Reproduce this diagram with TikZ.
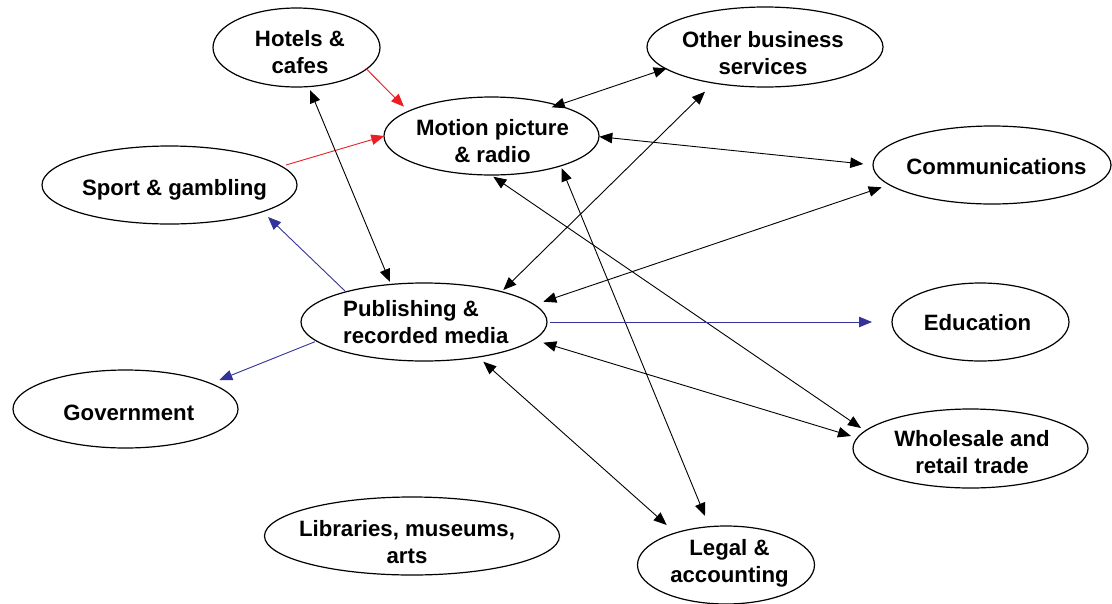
\documentclass[tikz,border=0pt]{standalone}
\usepackage{fontspec}
\setmainfont{Liberation Sans}
\usetikzlibrary{shapes.geometric,arrows.meta,calc}
\definecolor{arrred}{RGB}{235,30,36}
\definecolor{arrblue}{RGB}{51,51,153}
\begin{document}
\begin{tikzpicture}[x=1pt,y=1pt,
  ell/.style={ellipse,draw,line width=1.2pt,inner sep=0pt},
  lbl/.style={inner sep=0pt,font=\bfseries\fontsize{22.2}{27}\selectfont,anchor=base},
  >={Triangle[length=13pt,width=10.5pt]},
  bi/.style={<->,line width=0.9pt},
  rd/.style={->,line width=0.9pt,draw=arrred},
  bl/.style={->,line width=0.9pt,draw=arrblue}]
\useasboundingbox (0,0) rectangle (1112,-603);
% ellipses
\node[ell,minimum width=167pt,minimum height=79pt] (H) at (296.5,-47.5) {};
\node[ell,minimum width=215pt,minimum height=78pt] (M) at (491.5,-136) {};
\node[ell,minimum width=236pt,minimum height=80pt] (O) at (765,-47) {};
\node[ell,minimum width=238pt,minimum height=78pt] (C) at (992,-165) {};
\node[ell,minimum width=255pt,minimum height=78pt] (S) at (169.5,-185) {};
\node[ell,minimum width=246pt,minimum height=78pt] (P) at (424,-322) {};
\node[ell,minimum width=177pt,minimum height=78pt] (E) at (980.5,-322) {};
\node[ell,minimum width=225pt,minimum height=78pt] (G) at (125.5,-409) {};
\node[ell,minimum width=235pt,minimum height=79pt] (W) at (970.5,-448.5) {};
\node[ell,minimum width=295pt,minimum height=78pt] (L) at (412,-536) {};
\node[ell,minimum width=177pt,minimum height=78pt] (A) at (726,-565) {};
% labels
\node[lbl] (Ht) at ($(H)+(3.5,0.8)$) {\begin{tabular}[t]{@{}c@{}}Hotels \&\\cafes\end{tabular}};
\node[lbl] (Mt) at ($(M)+(1,1)$) {\begin{tabular}[t]{@{}c@{}}Motion picture\\\& radio\end{tabular}};
\node[lbl] (Ot) at ($(O)+(-2,-0.3)$) {\begin{tabular}[t]{@{}c@{}}Other business\\services\end{tabular}};
\node[lbl] (Ct) at ($(C)+(4.5,-9)$) {Communications};
\node[lbl] (St) at ($(S)+(5,-10)$) {Sport \& gambling};
\node[lbl,anchor=base west] (Pt) at ($(P)+(-81,6)$) {\begin{tabular}[t]{@{}l@{}}Publishing \&\\recorded media\end{tabular}};
\node[lbl] (Et) at ($(E)+(-3,-8.7)$) {Education};
\node[lbl] (Gt) at ($(G)+(3.3,-11)$) {Government};
\node[lbl] (Wt) at ($(W)+(1.5,1.8)$) {\begin{tabular}[t]{@{}c@{}}Wholesale and\\retail trade\end{tabular}};
\node[lbl] (Lt) at ($(L)+(-5,-0.7)$) {\begin{tabular}[t]{@{}c@{}}Libraries, museums,\\arts\end{tabular}};
\node[lbl] (At) at ($(A)+(3.5,10)$) {\begin{tabular}[t]{@{}c@{}}Legal \&\\accounting\end{tabular}};
% red connectors
\draw[rd] ($(H)+(69.2,-20.8)$) -- ($(M)+(-87.5,29.3)$);
\draw[rd] ($(S)+(116.5,20)$) -- ($(M)+(-107.2,0)$);
% black two-way connectors
\draw[bi] ($(M)+(60.2,28.7)$) -- ($(O)+(-98.3,-21.3)$);
\draw[bi] ($(M)+(107.8,-0.7)$) -- ($(C)+(-128.7,1)$);
\draw[bi] ($(H)+(13.5,-42.5)$) -- ($(P)+(-34,40)$);
\draw[bi] ($(P)+(79.3,32)$) -- ($(O)+(-60,-44.7)$);
\draw[bi] ($(P)+(119.3,20.3)$) -- ($(C)+(-110.3,-22.3)$);
\draw[bi] ($(P)+(119.3,-20.7)$) -- ($(W)+(-119.5,12.5)$);
\draw[bi] ($(M)+(1.8,-40.7)$) -- ($(W)+(-109.5,20.5)$);
\draw[bi] ($(M)+(70.2,-32.3)$) -- ($(A)+(-21,49)$);
\draw[bi] ($(P)+(59.3,-39.7)$) -- ($(A)+(-59.3,40)$);
% blue connectors
\draw[bl] ($(P)+(126,0)$) -- ($(E)+(-108.5,0)$);
\draw[bl] ($(P)+(-79,31)$) -- ($(S)+(98.5,-32)$);
\draw[bl] ($(P)+(-109,-19.7)$) -- ($(G)+(93.8,29)$);
\end{tikzpicture}
\end{document}
